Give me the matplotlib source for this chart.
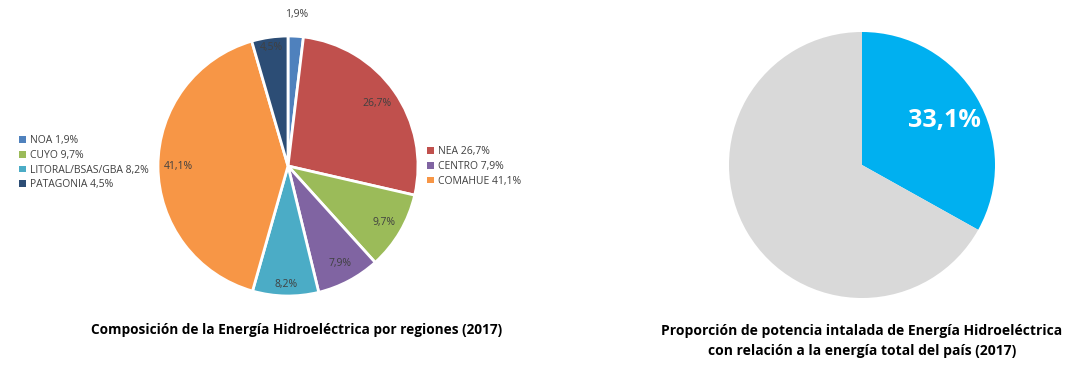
import numpy as np
import matplotlib as mpl
mpl.use('Agg')
import matplotlib.pyplot as plt

plt.rcParams['font.family'] = ['Open Sans', 'DejaVu Sans']

W, H = 1077, 385

# left pie: regions (clockwise from top)
regions = ['NOA', 'NEA', 'CUYO', 'CENTRO', 'LITORAL/BSAS/GBA', 'COMAHUE', 'PATAGONIA']
shares = [1.9, 26.7, 9.7, 7.9, 8.2, 41.1, 4.5]
colors = ['#4F81BD', '#C0504D', '#9BBB59', '#8064A2', '#4BACC6', '#F79646', '#2C4D75']
left_legend = ['NOA', 'CUYO', 'LITORAL/BSAS/GBA', 'PATAGONIA']
right_legend = ['NEA', 'CENTRO', 'COMAHUE']
label_dist = [1.17, 0.84, 0.86, 0.85, 0.91, 0.84, 0.92]

# right pie
hydro = [33.1, 66.9]
hydro_colors = ['#00B0F0', '#D9D9D9']

title_left = 'Composición de la Energía Hidroeléctrica por regiones (2017)'
title_right = 'Proporción de potencia intalada de Energía Hidroeléctrica\ncon relación a la energía total del país (2017)'

def fmt(v):
    return f'{v:.1f}'.replace('.', ',') + '%'

fig = plt.figure(figsize=(W / 100, H / 100), dpi=100)
fig.patch.set_facecolor('white')

def pie_axes(cx, cy, r):
    ax = fig.add_axes([(cx - r) / W, (H - cy - r) / H, 2 * r / W, 2 * r / H])
    ax.set_xlim(-1, 1)
    ax.set_ylim(-1, 1)
    ax.set_aspect('equal')
    ax.axis('off')
    return ax

ax1 = pie_axes(288, 166, 130)
wedges, _ = ax1.pie(shares, colors=colors, startangle=90, counterclock=False,
                    radius=1, wedgeprops=dict(edgecolor='white', linewidth=2))
ax1.set_xlim(-1, 1)
ax1.set_ylim(-1, 1)
for w, v, d in zip(wedges, shares, label_dist):
    ang = np.deg2rad((w.theta1 + w.theta2) / 2)
    ax1.text(d * np.cos(ang), d * np.sin(ang), fmt(v), ha='center', va='center',
             fontsize=7.5, color='#404040', clip_on=False)

handles = dict(zip(regions, wedges))
lab = dict(zip(regions, shares))
leg1 = fig.legend([handles[k] for k in left_legend], [f'{k} {fmt(lab[k])}' for k in left_legend],
                  loc='upper left', bbox_to_anchor=(12 / W, 1 - 128 / H), frameon=False,
                  fontsize=7.5, labelcolor='#404040', handlelength=0.6, handleheight=0.6,
                  handletextpad=0.4, labelspacing=0.35, borderpad=0.2)
leg2 = fig.legend([handles[k] for k in right_legend], [f'{k} {fmt(lab[k])}' for k in right_legend],
                  loc='upper left', bbox_to_anchor=(420 / W, 1 - 139 / H), frameon=False,
                  fontsize=7.5, labelcolor='#404040', handlelength=0.6, handleheight=0.6,
                  handletextpad=0.4, labelspacing=0.35, borderpad=0.2)
for leg in (leg1, leg2):
    for p in leg.get_patches():
        p.set_edgecolor('none')

ax2 = pie_axes(862, 165, 133)
w2, _ = ax2.pie(hydro, colors=hydro_colors, startangle=90, counterclock=False, radius=1)
ax2.set_xlim(-1, 1)
ax2.set_ylim(-1, 1)
ang = np.deg2rad((w2[0].theta1 + w2[0].theta2) / 2)
ax2.text(0.74 * np.cos(ang) - 0.02, 0.74 * np.sin(ang) - 0.04, fmt(hydro[0]), ha='center', va='center',
         fontsize=18, fontweight='bold', color='white')

fig.text(297 / W, 1 - 330 / H, title_left, ha='center', va='center', fontsize=9.8, fontweight='bold', color='black')
fig.text(862 / W, 1 - 341 / H, title_right, ha='center', va='center', fontsize=10, fontweight='bold',
         color='black', linespacing=1.55)

fig.savefig('out.png', dpi=100)
